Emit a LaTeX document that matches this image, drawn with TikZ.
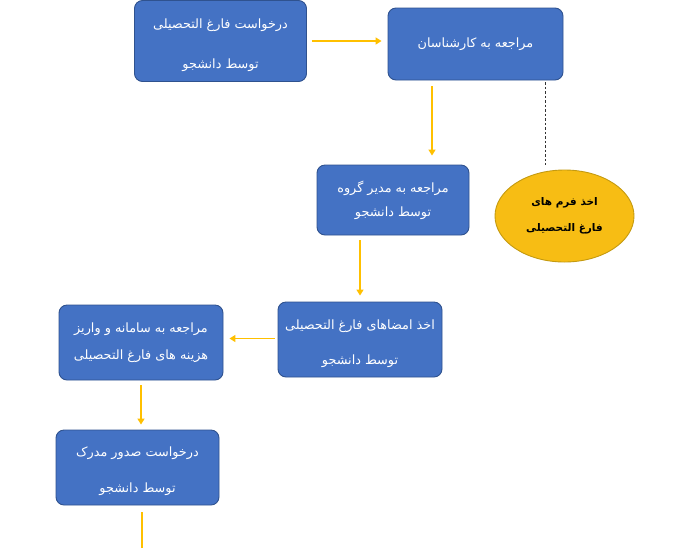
\documentclass[tikz,border=0pt]{standalone}
\usepackage{fontspec}
\newfontfamily\arabicfont[Script=Arabic]{DejaVu Sans}
\TeXXeTstate=1
\usetikzlibrary{arrows.meta,shapes.geometric,calc}
\definecolor{boxfill}{HTML}{4472C4}
\definecolor{boxline}{HTML}{2F528F}
\definecolor{gold}{HTML}{FFC000}
\definecolor{ellfill}{HTML}{F7BD14}
\definecolor{goldline}{HTML}{C49A10}
\tikzset{
  stepbox/.style={draw=boxline, fill=boxfill, line width=0.9pt, rounded corners=8pt,
    inner sep=0pt, align=center, text=white, font=\arabicfont\fontsize{12.8}{15}\selectfont},
  boxtext/.style={inner sep=0pt, align=center, text=white, font=\arabicfont\fontsize{12.8}{15}\selectfont},
  formell/.style={ellipse, draw=goldline, fill=ellfill, line width=0.9pt, inner sep=0pt,
    align=center, text=black, font=\arabicfont\bfseries\fontsize{10.5}{13}\selectfont},
  arr/.style={draw=gold, line width=1.5pt, -{Triangle[length=6pt,width=7pt]}},
  plainline/.style={draw=gold, line width=1.5pt},
  dashline/.style={draw=black!80, line width=0.6pt, dash pattern=on 2.5pt off 2pt},
}
\begin{document}
\begin{tikzpicture}[x=1pt,y=-1pt]
\useasboundingbox (0,0) rectangle (674,547);
\fill[white] (0,0) rectangle (674,547);
\node[stepbox, minimum width=172pt, minimum height=81pt] (b1) at (220.5,41) {};
\node[boxtext] (b1t) at ([yshift=-4pt]b1.center)
  {\beginR درخواست فارغ التحصیلی\endR\\[25pt]\beginR توسط دانشجو\endR};
\node[stepbox, minimum width=175pt, minimum height=72pt] (b2) at (475.5,44)
  {\beginR مراجعه به کارشناسان\endR};
\node[stepbox, minimum width=152pt, minimum height=70pt] (b3) at (393,200)
  {\beginR مراجعه به مدیر گروه\endR\\[9pt]\beginR توسط دانشجو\endR};
\node[formell, minimum width=139pt, minimum height=92pt] (e) at (564.5,216)
  {\beginR اخذ فرم های\endR\\[13pt]\beginR فارغ التحصیلی\endR};
\node[stepbox, minimum width=164pt, minimum height=75pt] (b4) at (360,339.5) {};
\node[boxtext] (b4t) at ([yshift=-4pt]b4.center)
  {\beginR اخذ امضاهای فارغ التحصیلی\endR\\[20pt]\beginR توسط دانشجو\endR};
\node[stepbox, minimum width=164pt, minimum height=75pt] (b5) at (141,342.5)
  {\beginR مراجعه به سامانه و واریز\endR\\[12pt]\beginR هزینه های فارغ التحصیلی\endR};
\node[stepbox, minimum width=163pt, minimum height=75pt] (b6) at (137.5,467.5) {};
\node[boxtext] (b6t) at ([yshift=-4pt]b6.center)
  {\beginR درخواست صدور مدرک\endR\\[21pt]\beginR توسط دانشجو\endR};
\coordinate (bottomend) at (142,548);
\draw[arr, shorten <=5pt, shorten >=6pt] (b1.east) -- (b1.east -| b2.west);
\draw[arr, shorten <=6pt, shorten >=9pt] ([xshift=-43.5pt]b2.south) -- ([xshift=-43.5pt]b2.south |- b3.north);
\draw[dashline, shorten <=2pt, shorten >=5pt] ([xshift=70pt]b2.south) -- ([xshift=70pt]b2.south |- e.north);
\draw[arr, shorten <=5pt, shorten >=6pt] ([xshift=-33pt]b3.south) -- (b4.north);
\draw[arr, shorten <=3pt, shorten >=6pt] ([yshift=1pt]b4.west) -- ([yshift=1pt]b4.west -| b5.east);
\draw[arr, shorten <=5pt, shorten >=5pt] (b5.south) -- (b5.south |- b6.north);
\draw[plainline, shorten <=7pt] (b6.south -| bottomend) -- (bottomend);
\end{tikzpicture}
\end{document}
